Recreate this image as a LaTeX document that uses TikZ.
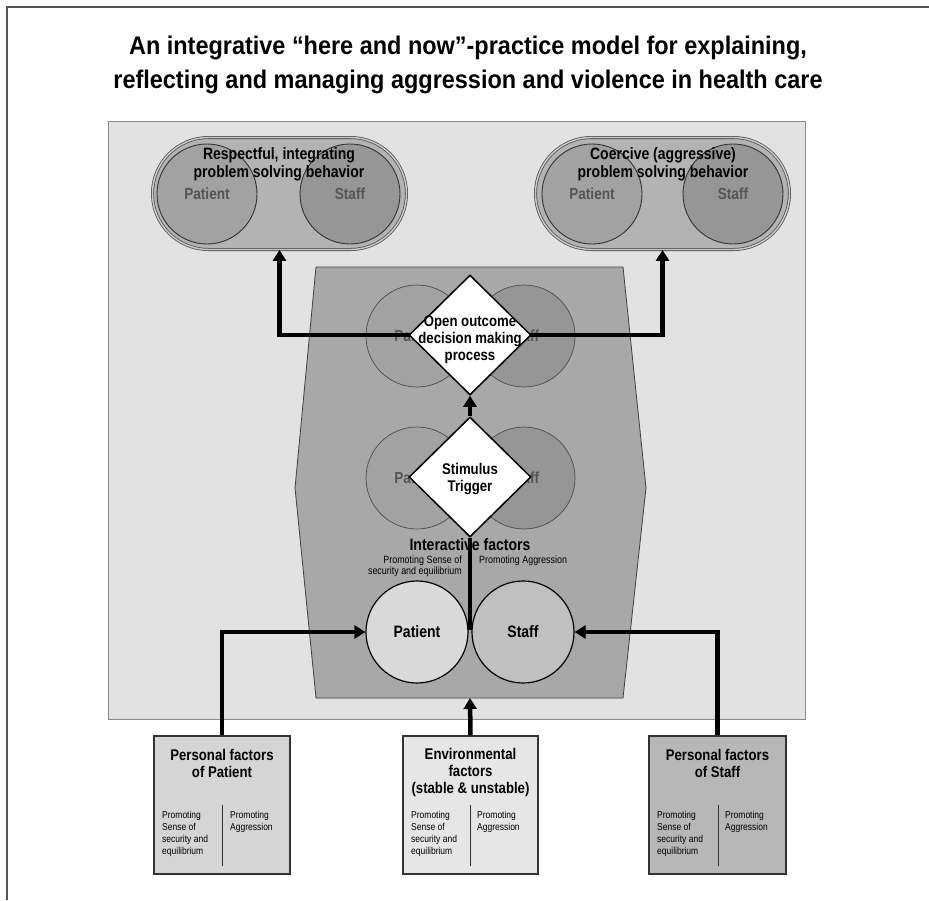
\documentclass[tikz,border=0pt]{standalone}
\usepackage{fontspec}
\setmainfont{Liberation Sans}
\newfontfamily\condA[FakeStretch=0.92]{Liberation Sans}
\newfontfamily\condB[FakeStretch=0.85]{Liberation Sans}
\usetikzlibrary{shapes.misc,shapes.geometric,arrows.meta}
\definecolor{panel}{HTML}{E2E2E2}
\definecolor{panelline}{HTML}{8A8A8A}
\definecolor{hexfill}{HTML}{A8A8A8}
\definecolor{pillfill}{HTML}{B3B3B3}
\definecolor{pcircA}{HTML}{A2A2A2}
\definecolor{pcircB}{HTML}{969696}
\definecolor{patfill}{HTML}{D9D9D9}
\definecolor{stafill}{HTML}{C0C0C0}
\definecolor{boxP}{HTML}{D5D5D5}
\definecolor{boxE}{HTML}{E6E6E6}
\definecolor{boxS}{HTML}{B7B7B7}
\definecolor{dtext}{HTML}{555555}
\definecolor{frameline}{HTML}{555555}
\begin{document}
\begin{tikzpicture}[x=1pt,y=-1pt,
  thickarrow/.style={line width=4.5pt,-{Triangle[width=13pt,length=11pt]}},
  thickline/.style={line width=4.5pt},
  pill/.style={rounded rectangle,minimum width=254pt,minimum height=112pt,inner sep=0pt,
    draw=frameline,double=pillfill!70!white,double distance=1.4pt,line width=0.8pt,fill=pillfill},
  pcirc/.style={circle,minimum size=100pt,inner sep=0pt,draw=black!80,line width=0.9pt,
    text=dtext,font=\condB\bfseries\fontsize{16}{18}\selectfont},
  hcirc/.style={circle,minimum size=102pt,inner sep=0pt,draw=black!70,line width=0.7pt,
    text=dtext,font=\condB\bfseries\fontsize{16}{18}\selectfont},
  bcirc/.style={circle,minimum size=102pt,inner sep=0pt,draw=black,line width=1.2pt,
    font=\condB\bfseries\fontsize{16.5}{18}\selectfont},
  dia/.style={diamond,minimum width=122pt,minimum height=120pt,inner sep=0pt,
    draw=black,line width=1.5pt,fill=white},
  diatext/.style={align=center,inner sep=0pt,font=\condB\bfseries\fontsize{15.5}{17}\selectfont},
  pilltitle/.style={align=center,inner sep=0pt,font=\condB\bfseries\fontsize{16.5}{18}\selectfont},
  fbox/.style={draw=black!80,line width=1.1pt,minimum height=138pt,inner sep=0pt},
  btitle/.style={align=center,inner sep=0pt,font=\condB\bfseries\fontsize{15.5}{17}\selectfont},
  small/.style={inner sep=0pt,font=\condB\fontsize{10}{12}\selectfont},
  tiny/.style={inner sep=0pt,font=\condB\fontsize{10.5}{11}\selectfont},
  title/.style={align=center,inner sep=0pt,font=\condA\bfseries\fontsize{25.5}{34}\selectfont}]
\useasboundingbox (0,0) rectangle (929,900);
\fill[white] (0,0) rectangle (929,900);
% frame
\draw[frameline,line width=1.5pt] (7,900) -- (7,7) -- (929,7);
% title
\node[title] (title) at (468,65) {An integrative “here and now”-practice model for explaining,\\reflecting and managing aggression and violence in health care};
% panel
\draw[fill=panel,draw=panelline,line width=0.8pt] (108,121) rectangle (805,719);
% hexagon
\draw[fill=hexfill,draw=black!75,line width=0.8pt] (316,267) -- (623,267) -- (646,488) -- (623,698) -- (316,698) -- (295,488) -- cycle;
\coordinate (hexbot) at (470,698);
% hex circles
\node[hcirc,fill=pcircA] (hu1) at (417,336) {Patient};
\node[hcirc,fill=pcircB] (hu2) at (524,336) {Staff};
\node[hcirc,fill=pcircA] (hl1) at (417,478) {Patient};
\node[hcirc,fill=pcircB] (hl2) at (524,478) {Staff};
% pills
\node[pill] (pillL) at (279.5,193.5) {};
\node[pcirc,fill=pcircA] (pL1) at (207,194) {Patient};
\node[pcirc,fill=pcircB] (pL2) at (350,194) {Staff};
\node[pilltitle] (pLt) at (279,164) {Respectful, integrating\\problem solving behavior};
\node[pill] (pillR) at (662.5,193.5) {};
\node[pcirc,fill=pcircA] (pR1) at (592,194) {Patient};
\node[pcirc,fill=pcircB] (pR2) at (733,194) {Staff};
\node[pilltitle] (pRt) at (663,164) {Coercive (aggressive)\\problem solving behavior};
% decision lines
\coordinate (dc1) at (470,335);
\draw[thickarrow] (dc1) -| (pillL.south);
\draw[thickarrow] (dc1) -| (pillR.south);
% diamonds
\node[dia] (d1) at (470,335) {};
\node[diatext] (d1t) at (470,340) {Open outcome\\decision making\\process};
\node[dia] (d2) at (470,477) {};
\node[diatext] (d2t) at (470,479) {Stimulus\\Trigger};
\draw[thickarrow] (d2.north) -- (d1.south);
% interactive factors
\node[pilltitle] (inter) at (470,545) {Interactive factors};
\node[tiny,align=right,anchor=north east] (intL) at (462,556) {Promoting Sense of\\security and equilibrium};
\node[tiny,anchor=north west] (intR) at (479,556) {Promoting Aggression};
\coordinate (tang) at (470,630);
\draw[thickline] (tang) -- (d2.south);
% bottom circles
\node[bcirc,fill=patfill] (pat) at (417,632) {Patient};
\node[bcirc,fill=stafill] (sta) at (523,632) {Staff};
% bottom boxes
\node[fbox,fill=boxP,minimum width=136pt] (bP) at (222,805) {};
\node[fbox,fill=boxE,minimum width=135pt] (bE) at (470.5,805) {};
\node[fbox,fill=boxS,minimum width=137pt] (bS) at (717.5,805) {};
\node[btitle] (bPt) at (222,763.5) {Personal factors\\of Patient};
\node[btitle] (bEt) at (470.5,772) {Environmental\\factors\\(stable \& unstable)};
\node[btitle] (bSt) at (717.5,763.5) {Personal factors\\of Staff};
\draw[black!80,line width=0.9pt] (222,805) -- (222,866);
\draw[black!80,line width=0.9pt] (470,805) -- (470,866);
\draw[black!80,line width=0.9pt] (718,805) -- (718,866);
\node[small,align=left,anchor=north west] (bPl) at (162,811) {Promoting\\Sense of\\security and\\equilibrium};
\node[small,align=left,anchor=north west] (bPr) at (230,811) {Promoting\\Aggression};
\node[small,align=left,anchor=north west] (bEl) at (411,811) {Promoting\\Sense of\\security and\\equilibrium};
\node[small,align=left,anchor=north west] (bEr) at (477,811) {Promoting\\Aggression};
\node[small,align=left,anchor=north west] (bSl) at (657,811) {Promoting\\Sense of\\security and\\equilibrium};
\node[small,align=left,anchor=north west] (bSr) at (725,811) {Promoting\\Aggression};
% input arrows
\draw[thickarrow] (bP.north) |- (pat.west);
\draw[thickarrow] (bS.north) |- (sta.east);
\draw[thickarrow] (bE.north) -- (hexbot);
\end{tikzpicture}
\end{document}
